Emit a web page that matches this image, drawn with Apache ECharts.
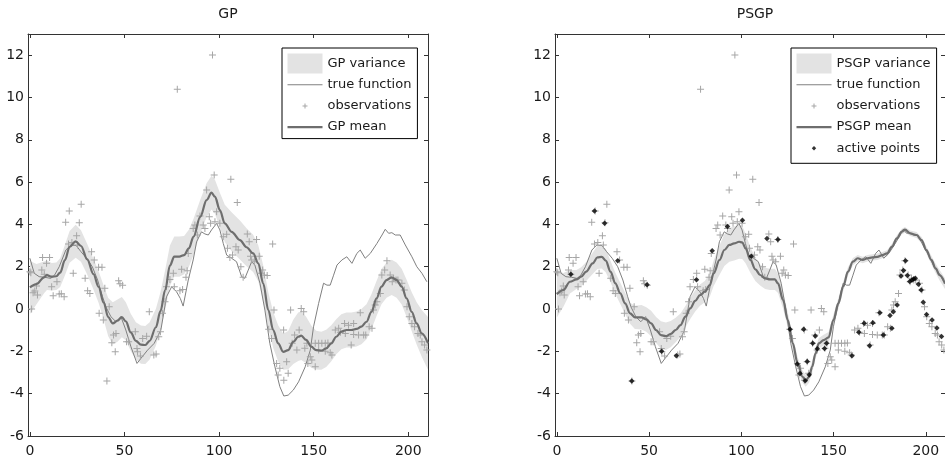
<!DOCTYPE html>
<html><head><meta charset="utf-8">
<script src="https://cdn.jsdelivr.net/npm/echarts@6/dist/echarts.min.js"></script>
<style>html,body{margin:0;padding:0;background:#fff}#c{width:945px;height:458px}</style>
</head><body><div id="c"></div>
<script>
const xTicks = [0, 50, 100, 150, 200];
const yTicks = [-6, -4, -2, 0, 2, 4, 6, 8, 10, 12];

const trueFunction = [[0,2.4],[2.3,1.69],[4.9,1.53],[8,1.5],[11,1.45],[13,1.6],[15.5,2.0],[19,2.79],[21.7,3.03],[24.5,3.0],[27,2.71],[30,2.4],[33,2.0],[35.8,1.37],[38.4,0.58],[40.2,0.1],[42.8,-0.36],[45.5,-0.6],[48.1,-0.36],[50.7,-0.99],[53.4,-1.78],[56.6,-2.57],[58.7,-2.33],[62.2,-1.94],[65.7,-1.62],[69.2,-1.0],[72.2,0.58],[74.9,1.05],[77.5,0.82],[79.5,0.5],[81,0.14],[83.7,1.37],[86.3,2.32],[88.1,3.18],[90.7,3.65],[92.5,3.55],[94.3,3.5],[96,3.74],[98.7,4.05],[100.4,3.74],[102.2,3.1],[104,2.55],[106.6,2.4],[109.2,2.24],[111.9,1.53],[113.6,1.45],[115.4,1.84],[117.2,2.24],[118.9,2.08],[121.6,1.22],[124.2,-0.05],[126.8,-1.62],[129.5,-2.73],[132.1,-3.67],[134.2,-4.11],[136.5,-4.07],[139.2,-3.83],[142,-3.44],[145.5,-2.73],[148.2,-1.94],[149.9,-0.84],[152.6,0.27],[155.2,1.22],[157,1.13],[158.7,1.13],[160.5,1.6],[162.3,2.08],[164.9,2.32],[167.5,2.47],[170.2,2.16],[172.8,2.63],[174.6,2.79],[177.2,2.4],[179.9,2.63],[183.4,3.1],[186.1,3.5],[187.8,3.77],[189.6,3.58],[191.3,3.61],[193.1,3.5],[195.7,3.5],[198.4,3.03],[201.9,2.47],[204.5,2.0],[207.2,1.69],[209.8,1.29]];

const observations = [[0.0,1.76],[0.5,1.72],[0.9,0.0],[1.7,0.77],[2.6,0.85],[3.5,1.09],[4.0,0.66],[6.3,1.84],[6.7,2.44],[7.6,1.65],[8.8,2.16],[10.4,2.44],[11.5,1.06],[12.3,0.63],[14.3,1.29],[15.5,0.71],[16.6,0.72],[18.1,0.58],[18.9,4.1],[20.4,3.07],[20.8,4.63],[22.2,3.14],[22.9,1.69],[24.7,3.47],[25.2,3.03],[26.1,4.08],[27.1,4.95],[29.2,1.45],[30.5,0.87],[31.7,0.74],[32.6,2.71],[34.0,2.32],[36.3,1.97],[36.6,-0.2],[38.1,1.97],[38.8,-0.52],[39.6,0.98],[40.7,-3.4],[41.9,0.11],[43.3,-1.59],[44.2,-1.23],[45.1,-2.02],[45.5,-1.15],[46.9,1.34],[47.6,1.2],[49.0,1.13],[51.1,-1.55],[52.2,-1.54],[55.7,-1.07],[56.6,-1.86],[56.9,-2.02],[58.4,-2.22],[59.6,-1.39],[61.7,-1.28],[63.1,-0.13],[65.5,-2.17],[66.7,-2.13],[68.1,-1.31],[69.0,-1.07],[70.1,-0.2],[71.4,0.35],[72.2,1.05],[74.0,1.4],[75.8,1.69],[76.3,1.05],[77.9,10.39],[79.3,0.87],[80.2,1.88],[80.7,0.93],[82.5,1.5],[83.1,1.81],[83.7,2.63],[86.3,3.81],[87.2,3.97],[88.5,3.5],[89.9,4.4],[91.6,3.97],[92.5,3.81],[93.4,5.63],[94.8,4.36],[95.5,4.05],[96.5,12.01],[97.4,6.34],[97.8,4.13],[98.7,4.6],[100.4,4.05],[102.2,3.42],[104.0,3.53],[104.4,2.87],[105.7,2.44],[106.2,6.13],[107.1,2.55],[108.9,2.95],[109.6,5.04],[110.1,2.79],[111.5,2.0],[112.7,1.5],[114.9,3.55],[115.9,3.18],[116.6,2.5],[117.2,2.32],[118.6,2.24],[119.8,3.29],[121.2,2.5],[122.1,1.69],[123.0,1.84],[123.9,1.61],[125.4,1.59],[126.2,-0.96],[127.7,-1.39],[128.3,3.07],[129.0,-0.05],[130.4,-2.57],[131.2,-3.12],[132.1,-2.8],[134.1,-0.99],[134.2,-3.36],[135.7,-2.49],[136.5,-3.04],[137.8,-0.05],[138.6,-1.62],[139.9,-1.23],[141.1,-1.94],[142.3,-0.99],[143.4,0.03],[144.7,-0.13],[145.3,-1.85],[146.4,-1.62],[146.9,-2.57],[148.2,-2.26],[149.0,-2.41],[150.8,-2.73],[150.8,-1.62],[152.6,-1.62],[152.6,-1.94],[154.3,-1.62],[156.1,-1.62],[156.1,-2.0],[157.5,-1.6],[158.7,-2.07],[159.6,-2.17],[161.4,-0.99],[163.2,-0.91],[164.1,-1.1],[166.3,-0.68],[166.7,-1.15],[168.4,-0.76],[169.8,-1.7],[171.1,-0.68],[171.1,-1.2],[173.7,-1.23],[174.6,-0.17],[176.4,-1.23],[177.5,-1.23],[179.3,-0.84],[180.8,-0.91],[181.6,-0.05],[182.5,0.19],[183.4,0.35],[185.2,0.74],[186.0,1.61],[187.5,1.84],[188.7,2.28],[190.4,1.61],[191.5,1.29],[192.2,1.45],[193.5,1.37],[194.5,1.37],[196.6,1.22],[197.9,0.9],[199.3,0.11],[200.5,-0.36],[201.9,-0.68],[203.3,-0.84],[205.1,-1.15],[206.3,-1.23],[207.2,-1.55],[208.6,-1.7],[209.8,-1.94]];

const gpX    = [0,3.5,7.5,9,11.5,14,16,18.5,21,24.2,27,30.3,33.6,36.3,39,41.4,43.8,46.3,48.6,50.7,53.3,56,58.7,61,63.3,66.6,69,71.5,74,76.3,79,81.5,84,86.5,90,93.4,96,97.8,100.4,103,106.6,111,114.5,118,120.7,123.3,126,128.6,131.2,133.9,136.5,139.2,141.8,143.4,146,148.7,151.3,154,156.6,159.3,161.9,164.6,167.3,169.9,172.6,175.2,177.9,180.5,183.2,185.8,188.5,191.2,193.8,196.5,199.1,201.8,204.4,207.1,210.4];
const gpMean = [1.02,1.18,1.5,1.6,1.53,1.55,1.72,2.31,2.94,3.2,2.98,2.35,1.65,1.05,0.3,-0.38,-0.68,-0.55,-0.38,-0.58,-1.1,-1.5,-1.68,-1.7,-1.5,-0.86,-0.1,0.9,2.05,2.48,2.48,2.55,2.87,3.42,4.36,5.15,5.5,5.31,4.68,4.05,3.65,3.26,2.92,2.63,2.16,1.22,-0.05,-0.99,-1.62,-2.02,-1.94,-1.55,-1.31,-1.26,-1.46,-1.78,-1.94,-1.97,-1.86,-1.62,-1.31,-1.07,-0.99,-0.99,-0.94,-0.83,-0.6,-0.13,0.5,1.06,1.37,1.5,1.37,1.06,0.5,-0.13,-0.68,-1.15,-1.62];
const gpHalf = [1.25,0.95,0.75,0.7,0.65,0.65,0.68,0.72,0.75,0.78,0.75,0.72,0.72,0.75,0.8,0.9,1.0,1.0,0.95,0.9,0.88,0.88,0.9,0.9,0.88,0.88,0.9,0.95,0.95,0.95,0.95,0.9,0.88,0.85,0.8,0.8,0.8,0.8,0.82,0.88,0.92,0.92,0.9,0.88,0.85,0.85,0.85,0.85,0.85,0.85,0.9,1.05,1.15,1.15,1.1,1.0,0.92,0.9,0.88,0.85,0.83,0.83,0.83,0.83,0.83,0.83,0.83,0.83,0.83,0.83,0.83,0.83,0.83,0.85,0.88,0.92,1.0,1.1,1.25];

const psgpX    = [0,3.5,7.1,10.6,13.2,15.9,19.4,22,24.3,26.5,29.1,31.7,34.4,37,39.7,42.3,45.9,48.5,51.1,53.8,56.4,59.1,61.7,64.4,67,69.7,72.3,75,77.6,80.2,82.9,85,88.2,90.8,93.5,96.1,98.8,100.5,102.3,104.9,107.6,110.2,112.9,115.5,118.2,119.9,122.6,125.2,127.9,130.5,133.2,134.9,136.7,138.4,140.2,142,144.6,147.3,149.9,152.6,155.2,157.8,160.5,163.1,165.8,168.4,171.1,173.7,176.4,179,181.7,184.3,187,188.7,191.5,195,197.7,200.3,203,205.3,207.5,210.4];
const psgpMean = [0.7,0.9,1.29,1.4,1.53,1.77,2.16,2.44,2.47,2.29,1.77,1.21,0.74,0.27,-0.2,-0.39,-0.39,-0.49,-0.68,-0.99,-1.23,-1.28,-1.18,-0.99,-0.76,-0.36,0.03,0.39,0.66,0.82,1.13,1.69,2.32,2.79,3.03,3.1,3.18,3.15,2.87,2.32,1.88,1.61,1.45,1.4,1.4,1.21,0.43,-0.52,-1.62,-2.57,-3.2,-3.39,-3.2,-2.73,-2.1,-1.62,-1.47,-1.34,-0.52,0.27,1.06,1.77,2.24,2.4,2.32,2.4,2.44,2.47,2.55,2.63,2.95,3.34,3.66,3.75,3.58,3.5,3.26,2.79,2.32,1.92,1.6,1.2];
const psgpHalf = [1.1,0.8,0.55,0.45,0.45,0.45,0.5,0.55,0.55,0.55,0.5,0.5,0.5,0.5,0.5,0.55,0.58,0.58,0.6,0.62,0.65,0.65,0.62,0.58,0.55,0.5,0.5,0.5,0.5,0.5,0.55,0.6,0.7,0.75,0.8,0.8,0.8,0.78,0.7,0.6,0.55,0.5,0.5,0.5,0.5,0.45,0.4,0.35,0.32,0.3,0.28,0.28,0.28,0.27,0.25,0.25,0.25,0.25,0.25,0.25,0.22,0.2,0.17,0.15,0.15,0.15,0.15,0.15,0.15,0.15,0.15,0.15,0.14,0.13,0.13,0.14,0.15,0.17,0.2,0.22,0.25,0.25];

const activePoints = [[7.6,1.65],[20.4,4.63],[25.9,4.05],[33.0,2.28],[40.6,-3.4],[48.9,1.15],[56.8,-1.99],[64.8,-2.21],[75.7,1.39],[84.2,2.76],[92.5,3.9],[100.6,4.2],[105.4,2.5],[113.9,3.34],[119.8,3.29],[126.4,-0.96],[130.3,-2.6],[131.8,-3.05],[133.8,-0.96],[134.6,-3.39],[135.7,-2.48],[136.8,-3.1],[138.7,-1.62],[140.1,-1.27],[141.2,-1.88],[145.1,-1.86],[146.2,-1.62],[160.0,-2.21],[163.7,-1.1],[166.6,-0.67],[169.5,-1.73],[171.3,-0.65],[175.1,-0.17],[177.0,-1.23],[180.6,-0.3],[181.6,-0.91],[182.4,-0.13],[184.5,0.19],[186.6,1.56],[187.9,1.82],[189.0,2.28],[190.0,1.58],[191.3,1.3],[192.5,1.37],[193.4,1.42],[194.3,1.45],[196.0,1.17],[197.5,0.9],[198.6,0.32],[200.4,-0.26],[203.4,-0.52],[206.0,-0.9],[208.5,-1.3]];

const FONT = 'DejaVu Sans';
const TXT = '#1a1a1a';
const AX = '#333';
const BAND = '#e3e3e3';
const TRUE_C = '#808080';
const MEAN_C = '#6e6e6e';
const OBS_C = '#a6a6a6';

const plusPath = 'path://M0,3L3,3L3,0L4,0L4,3L7,3L7,4L4,4L4,7L3,7L3,4L0,4Z';
const legendPlus = 'path://M0,0M35,20M15,9.5L17,9.5L17,7.5L18,7.5L18,9.5L20,9.5L20,10.5L18,10.5L18,12.5L17,12.5L17,10.5L15,10.5Z';
const legendDot = 'path://M0,0M35,20M17.5,7.8L19.7,10L17.5,12.2L15.3,10Z';
const legendThin = 'path://M0,0L35,0L35,1L0,1Z';
const legendThick = 'path://M0,0L35,0L35,2.2L0,2.2Z';

function xAxes(gi) {
  return [
    { type:'value', gridIndex:gi, position:'bottom', min:-1, max:210.4,
      axisLine:{show:true, onZero:false, lineStyle:{color:AX, width:1}},
      axisTick:{show:true, inside:true, length:4, customValues:xTicks, lineStyle:{color:AX}},
      axisLabel:{show:true, customValues:xTicks, margin:8, color:TXT, fontFamily:FONT, fontSize:14},
      splitLine:{show:false} },
    { type:'value', gridIndex:gi, position:'top', min:-1, max:210.4,
      axisLine:{show:true, onZero:false, lineStyle:{color:AX, width:1}},
      axisTick:{show:true, inside:true, length:4, customValues:xTicks, lineStyle:{color:AX}},
      axisLabel:{show:false}, splitLine:{show:false} }
  ];
}
function yAxes(gi) {
  return [
    { type:'value', gridIndex:gi, position:'left', min:-6, max:13,
      axisLine:{show:true, onZero:false, lineStyle:{color:AX, width:1}},
      axisTick:{show:true, inside:true, length:4, customValues:yTicks, lineStyle:{color:AX}},
      axisLabel:{show:true, customValues:yTicks, margin:4, color:TXT, fontFamily:FONT, fontSize:14},
      splitLine:{show:false} },
    { type:'value', gridIndex:gi, position:'right', min:-6, max:13,
      axisLine:{show:true, onZero:false, lineStyle:{color:AX, width:1}},
      axisTick:{show:true, inside:true, length:4, customValues:yTicks, lineStyle:{color:AX}},
      axisLabel:{show:false}, splitLine:{show:false} }
  ];
}

function bandSeries(name, xs, mean, half, axIdx) {
  return {
    type:'custom', name:name, xAxisIndex:axIdx, yAxisIndex:axIdx, z:1, silent:true, clip:true,
    itemStyle:{color:BAND},
    data: xs.map((x,i)=>[x, mean[i]]),
    encode:{x:0, y:1},
    renderItem: function(params, api) {
      if (params.dataIndex !== 0) return null;
      const up = xs.map((x,i)=>api.coord([x, mean[i]+half[i]]));
      const lo = xs.map((x,i)=>api.coord([x, mean[i]-half[i]])).reverse();
      return { type:'polygon', shape:{points: up.concat(lo)}, style:{fill:BAND, stroke:null} };
    }
  };
}
function trueSeries(axIdx) {
  return { type:'line', name:'true function', xAxisIndex:axIdx, yAxisIndex:axIdx, z:2,
    data:trueFunction, symbol:'none', color:TRUE_C, lineStyle:{color:TRUE_C, width:1}, itemStyle:{color:TRUE_C} };
}
function obsSeries(axIdx) {
  return { type:'scatter', name:'observations', xAxisIndex:axIdx, yAxisIndex:axIdx, z:3,
    data:observations, symbol:plusPath, symbolSize:7, itemStyle:{color:OBS_C, opacity:1} };
}
function meanSeries(name, xs, mean, axIdx) {
  return { type:'line', name:name, xAxisIndex:axIdx, yAxisIndex:axIdx, z:4,
    data: xs.map((x,i)=>[x, mean[i]]), symbol:'none', smooth:0.35, smoothMonotone:'x',
    color:MEAN_C, lineStyle:{color:MEAN_C, width:2.2}, itemStyle:{color:MEAN_C} };
}

function legend(left, names, icons) {
  return {
    orient:'vertical', left:left, top:48, itemWidth:35, itemHeight:20, itemGap:4.7, itemTextGap:5,
    padding:[5.5,6,5,5.5], backgroundColor:'#fff', borderColor:'#000', borderWidth:1, borderRadius:0,
    selectedMode:false, symbolKeepAspect:true, z:10,
    itemStyle:{borderWidth:0},
    textStyle:{fontFamily:FONT, fontSize:13, color:TXT},
    data: names.map((n,i)=>({name:n, icon:icons[i]}))
  };
}

const chart = echarts.init(document.getElementById('c'), null, {renderer:'canvas'});
chart.setOption({
  animation:false,
  backgroundColor:'#fff',
  title:[
    {text:'GP', left:228, top:7, textAlign:'center', padding:0, textStyle:{fontFamily:FONT, fontSize:14, fontWeight:'normal', color:TXT}},
    {text:'PSGP', left:755, top:7, textAlign:'center', padding:0, textStyle:{fontFamily:FONT, fontSize:14, fontWeight:'normal', color:TXT}}
  ],
  grid:[
    {left:28, top:34, width:400, height:402},
    {left:555, top:34, width:400, height:402}
  ],
  xAxis:[...xAxes(0), ...xAxes(1)],
  yAxis:[...yAxes(0), ...yAxes(1)],
  legend:[
    legend(282, ['GP variance','true function','observations','GP mean'], ['rect', legendThin, legendPlus, legendThick]),
    legend(791, ['PSGP variance','true function','observations','PSGP mean','active points'], ['rect', legendThin, legendPlus, legendThick, legendDot])
  ],
  series:[
    bandSeries('GP variance', gpX, gpMean, gpHalf, 0),
    trueSeries(0),
    obsSeries(0),
    meanSeries('GP mean', gpX, gpMean, 0),
    bandSeries('PSGP variance', psgpX, psgpMean, psgpHalf, 2),
    trueSeries(2),
    obsSeries(2),
    meanSeries('PSGP mean', psgpX, psgpMean, 2),
    { type:'scatter', name:'active points', xAxisIndex:2, yAxisIndex:2, z:5,
      data:activePoints, symbol:'diamond', symbolSize:5.5, itemStyle:{color:'#000'} }
  ]
});
</script>
</body></html>
